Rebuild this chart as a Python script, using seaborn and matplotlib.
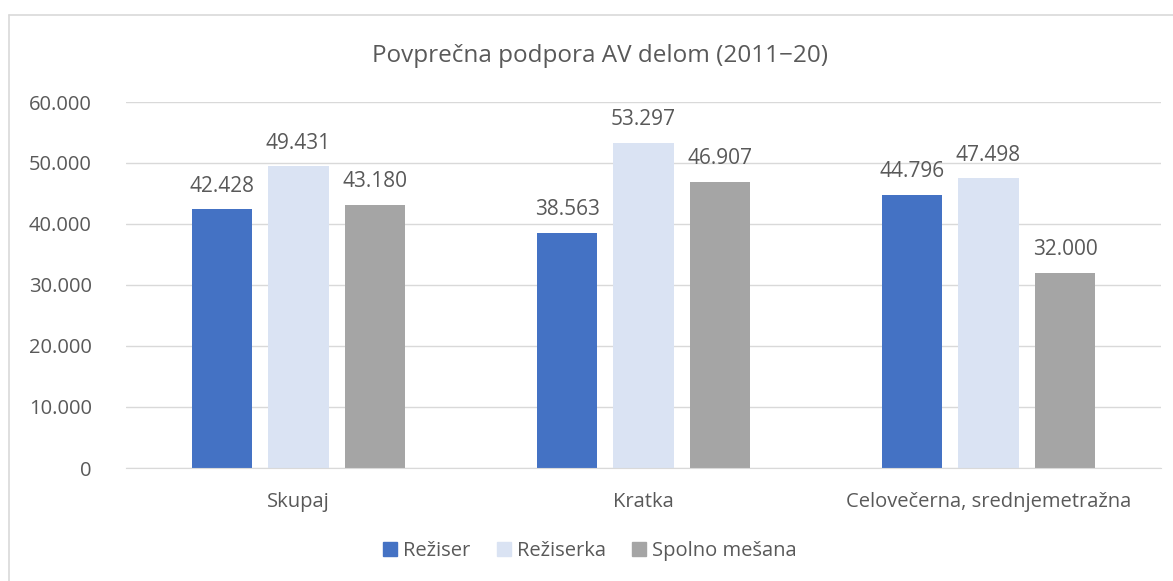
import matplotlib
matplotlib.use("Agg")
import matplotlib.pyplot as plt
import seaborn as sns
import pandas as pd
from matplotlib.lines import Line2D
from matplotlib.ticker import FuncFormatter

categories = ["Skupaj", "Kratka", "Celovečerna, srednjemetražna"]
series = ["Režiser", "Režiserka", "Spolno mešana"]
reziser = [42428, 38563, 44796]
reziserka = [49431, 53297, 47498]
spolno = [43180, 46907, 32000]
colors = ["#4472C4", "#DAE3F3", "#A5A5A5"]

rows = []
for s, vals in zip(series, [reziser, reziserka, spolno]):
    for c, v in zip(categories, vals):
        rows.append({"Kategorija": c, "Skupina": s, "Vrednost": v})
df = pd.DataFrame(rows)

sns.set_style("white")
plt.rcParams["font.family"] = ["Open Sans", "DejaVu Sans"]
text_color = "#595959"
fs = 14.5

fig = plt.figure(figsize=(11.73, 5.81), dpi=100)
ax = fig.add_axes([126 / 1173, 1 - 468 / 581, (1161 - 126) / 1173, (468 - 102) / 581])

sns.barplot(data=df, x="Kategorija", y="Vrednost", hue="Skupina",
            palette=colors, width=0.665, gap=0.215, ax=ax, legend=False,
            saturation=1, errorbar=None, linewidth=0)


def fmt(v):
    return f"{int(v):,}".replace(",", ".")


for cont in ax.containers:
    ax.bar_label(cont, labels=[fmt(b.get_height()) for b in cont],
                 padding=9, fontsize=fs + 0.5, color=text_color)

ax.set_xlim(-0.5, 2.5)
ax.set_ylim(0, 60000)
ax.set_yticks(range(0, 60001, 10000))
ax.yaxis.set_major_formatter(FuncFormatter(lambda v, p: fmt(v)))
ax.grid(axis="y", color="#D9D9D9", linewidth=1)
ax.set_axisbelow(True)
for sp in ["top", "right", "left"]:
    ax.spines[sp].set_visible(False)
ax.spines["bottom"].set_color("#D9D9D9")
ax.tick_params(axis="y", length=0, pad=24.5, labelsize=fs, labelcolor=text_color)
ax.tick_params(axis="x", length=0, pad=17, labelsize=fs, labelcolor=text_color)
ax.set_xlabel("")
ax.set_ylabel("")

fig.text(600 / 1173, 1 - 56 / 581, "Povprečna podpora AV delom (2011−20)",
         ha="center", va="center", fontsize=17.5, color=text_color)

handles = [Line2D([0], [0], marker="s", linestyle="", markersize=10,
                  markerfacecolor=c, markeredgecolor=c) for c in colors]
fig.legend(handles, series, loc="center", bbox_to_anchor=(590 / 1173, 1 - 551 / 581),
           ncol=3, frameon=False, fontsize=fs, labelcolor=text_color,
           handlelength=0.7, handletextpad=0.3, columnspacing=1.3)

# chart area border (left and top edges visible)
fig.add_artist(Line2D([9 / 1173, 9 / 1173], [0, 1 - 15 / 581],
                      transform=fig.transFigure, color="#D9D9D9", linewidth=1.2))
fig.add_artist(Line2D([9 / 1173, 1], [1 - 15 / 581, 1 - 15 / 581],
                      transform=fig.transFigure, color="#D9D9D9", linewidth=1.2))

fig.savefig("out.png", dpi=100)
